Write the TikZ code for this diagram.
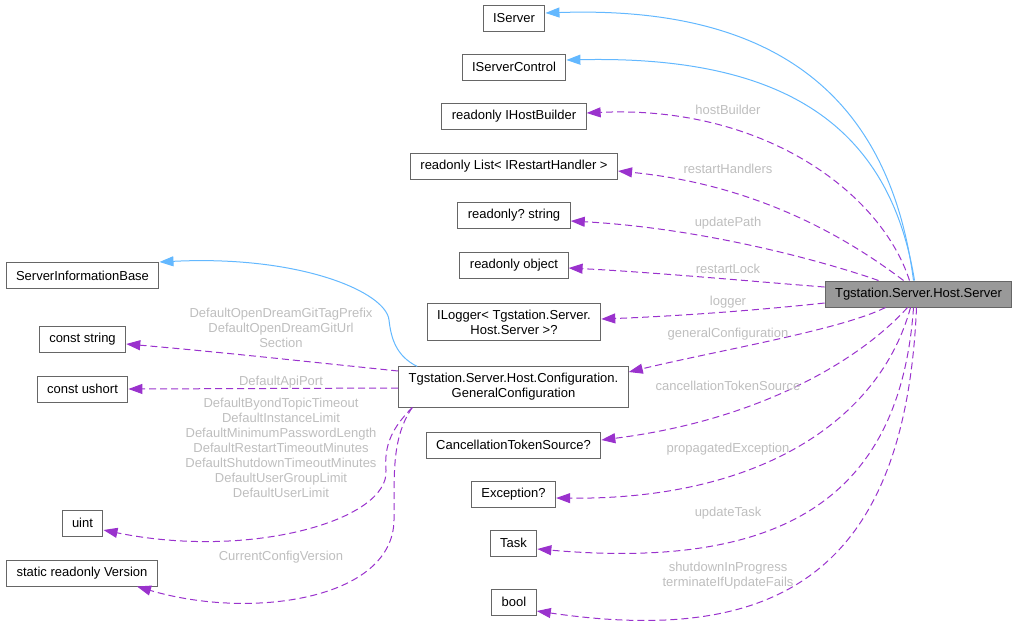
\documentclass[tikz,border=0pt]{standalone}
\usepackage{fontspec}
\setmainfont{Liberation Sans}
\usetikzlibrary{arrows.meta}
\frenchspacing

\definecolor{boxline}{HTML}{666666}
\definecolor{srvfill}{HTML}{999999}
\definecolor{inhblue}{HTML}{63B8FF}
\definecolor{usepurple}{HTML}{9A32CD}
\definecolor{lblgray}{HTML}{BEBEBE}

\begin{document}
\begin{tikzpicture}[x=1pt, y=-1pt,
    cls/.style={draw=boxline, line width=1pt, fill=white, inner xsep=10pt, inner ysep=6.5pt,
      minimum height=26pt, align=center, font=\fontsize{13}{15}\selectfont},
    inherit/.style={inhblue, line width=1pt, -{Triangle[length=14pt, width=10pt]}},
    usage/.style={usepurple, line width=1pt, dash pattern=on 7pt off 4pt,
      -{Triangle[length=14pt, width=10pt]}},
    lbl/.style={text=lblgray, inner sep=0pt, align=center, font=\fontsize{13}{15}\selectfont}]
    \useasboundingbox (0,0) rectangle (1019,633);

    % main class
    \node [cls, fill=srvfill] (srv) at (918.5,294) {Tgstation.Server.Host.Server};

    % middle column
    \node [cls] (iserver)  at (514,18)    {IServer};
    \node [cls] (iservctl) at (514,67)    {IServerControl};
    \node [cls] (hostbld)  at (514,116.5) {readonly IHostBuilder};
    \node [cls] (rstlist)  at (514,166)   {readonly List< IRestartHandler >};
    \node [cls] (updpath)  at (514,215)   {readonly? string};
    \node [cls] (rstlock)  at (514,265)   {readonly object};
    \node [cls] (ilogger)  at (514,322)   {ILogger< Tgstation.Server.\\Host.Server >?};
    \node [cls] (gencfg)   at (513.5,387) {Tgstation.Server.Host.Configuration.\\GeneralConfiguration};
    \node [cls] (ctsrc)    at (513.5,445) {CancellationTokenSource?};
    \node [cls] (excpt)    at (513.5,494) {Exception?};
    \node [cls] (task)     at (513.5,543) {Task};
    \node [cls] (bool)     at (514,602)   {bool};

    % left column
    \node [cls] (sibase)  at (82.5,275.5) {ServerInformationBase};
    \node [cls] (cstring) at (82.5,339)   {const string};
    \node [cls] (cushort) at (82.5,389)   {const ushort};
    \node [cls] (uint)    at (82.5,523)   {uint};
    \node [cls] (version) at (82,573)     {static readonly Version};

    % inheritance
    \draw [inherit] ([xshift=-5pt]srv.north) .. controls (890,100) and (780,5) .. ([yshift=5pt]iserver.east);
    \draw [inherit] ([xshift=-4pt]srv.north) .. controls (890,130) and (790,55) .. ([yshift=7pt]iservctl.east);
    \draw [inherit] ([xshift=19pt]gencfg.north west) .. controls (396,356) and (391,338) .. (389,320)
      .. controls (386,292) and (300,255) .. ([yshift=13.5pt]sibase.east);

    % members of the server
    \draw [usage] ([xshift=-9pt]srv.north) .. controls (880,190) and (760,105) .. ([yshift=3.5pt]hostbld.east);
    \draw [usage] ([xshift=-15pt]srv.north) .. controls (850,240) and (760,185) .. ([yshift=-5pt]rstlist.east);
    \draw [usage] ([xshift=-40pt]srv.north) .. controls (820,260) and (700,228) .. ([yshift=-6pt]updpath.east);
    \draw [usage] ([yshift=7pt]srv.west) .. controls (760,282) and (650,272) .. ([yshift=-3pt]rstlock.east);
    \draw [usage] ([yshift=-9pt]srv.west) .. controls (760,310) and (680,316) .. ([yshift=3pt]ilogger.east);
    \draw [usage] ([xshift=-33pt]srv.south) .. controls (840,330) and (720,350) .. ([yshift=15pt]gencfg.east);
    \draw [usage] ([xshift=-11pt]srv.south) .. controls (860,360) and (760,420) .. ([yshift=5pt]ctsrc.east);
    \draw [usage] ([xshift=-8pt]srv.south) .. controls (880,420) and (760,500) .. ([yshift=-4pt]excpt.east);
    \draw [usage] ([xshift=-5pt]srv.south) .. controls (900,500) and (780,570) .. ([yshift=-6pt]task.east);
    \draw [usage] ([xshift=-2pt]srv.south) .. controls (905,580) and (770,645) .. ([yshift=-9pt]bool.east);

    \node [lbl] (lhost)  at (728,110) {hostBuilder};
    \node [lbl] (lrlist) at (728,169) {restartHandlers};
    \node [lbl] (lupd)   at (728,223) {updatePath};
    \node [lbl] (llock)  at (728,269) {restartLock};
    \node [lbl] (llog)   at (728,302) {logger};
    \node [lbl] (lcfg)   at (728,334) {generalConfiguration};
    \node [lbl] (lcts)   at (728,386) {cancellationTokenSource};
    \node [lbl] (lexc)   at (728,449) {propagatedException};
    \node [lbl] (ltask)  at (728,513) {updateTask};
    \node [lbl] (lbool)  at (728,576) {shutdownInProgress\\terminateIfUpdateFails};

    % members of the configuration
    \draw [usage] ([yshift=16pt]gencfg.west) .. controls (320,363) and (220,352) .. ([yshift=-5pt]cstring.east);
    \draw [usage] ([yshift=-1pt]gencfg.west) -- (cushort.east);
    \draw [usage] ([xshift=14pt]gencfg.south west) .. controls (392,428) and (384,445) .. (386,470)
      .. controls (390,520) and (250,560) .. ([yshift=-7pt]uint.east);
    \draw [usage] ([xshift=14pt]gencfg.south west) .. controls (390,440) and (395,480) .. (394,520)
      .. controls (393,600) and (250,620) .. ([xshift=55pt]version.south);

    \node [lbl] (lstr)  at (281,328) {DefaultOpenDreamGitTagPrefix\\DefaultOpenDreamGitUrl\\Section};
    \node [lbl] (lport) at (281,382) {DefaultApiPort};
    \node [lbl] (luint) at (281,448) {DefaultByondTopicTimeout\\DefaultInstanceLimit\\DefaultMinimumPasswordLength\\DefaultRestartTimeoutMinutes\\DefaultShutdownTimeoutMinutes\\DefaultUserGroupLimit\\DefaultUserLimit};
    \node [lbl] (lver)  at (281,557) {CurrentConfigVersion};
  \end{tikzpicture}
\end{document}
